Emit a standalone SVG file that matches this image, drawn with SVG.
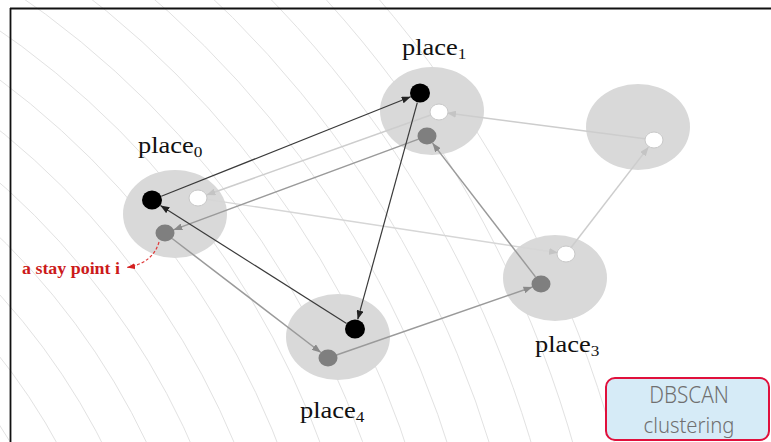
<svg xmlns="http://www.w3.org/2000/svg" width="771" height="442" viewBox="0 0 771 442">
  <style>
    .ring { fill: none; stroke: #e2e2e2; stroke-width: 1; }
    .place { fill: #d9d9d9; }
    .blk { fill: #000; }
    .gry { fill: #7f7f7f; }
    .wht { fill: #fff; stroke: #c8c8c8; stroke-width: 1; }
    .lbl { font-family: "Liberation Serif", "Times New Roman", serif; font-size: 23px; fill: #111; }
    .sub { font-size: 15px; }
    .tag { font-family: "Noto Sans", "Liberation Sans", sans-serif; font-weight: 300; fill: #707070; }
    .dark { stroke: #3a3a3a; stroke-width: 1.2; fill: none; marker-end: url(#ahDark); }
    .mid { stroke: #9a9a9a; stroke-width: 1.5; fill: none; marker-end: url(#ahMid); }
    .lite { stroke: #cdcdcd; stroke-width: 1.5; fill: none; marker-end: url(#ahLite); }
    .faint { stroke: #d6d6d6; stroke-width: 1.4; fill: none; marker-end: url(#ahLite); }
  </style>
  <defs>
    <marker id="ahDark" markerUnits="userSpaceOnUse" markerWidth="9" markerHeight="7" refX="9" refY="3.5" orient="auto">
      <path d="M0,0 L9,3.5 L0,7 z" fill="#222"/>
    </marker>
    <marker id="ahMid" markerUnits="userSpaceOnUse" markerWidth="9" markerHeight="7" refX="9" refY="3.5" orient="auto">
      <path d="M0,0 L9,3.5 L0,7 z" fill="#8a8a8a"/>
    </marker>
    <marker id="ahLite" markerUnits="userSpaceOnUse" markerWidth="9" markerHeight="7" refX="9" refY="3.5" orient="auto">
      <path d="M0,0 L9,3.5 L0,7 z" fill="#c4c4c4"/>
    </marker>
    <marker id="ahRed" markerUnits="userSpaceOnUse" markerWidth="8" markerHeight="6" refX="8" refY="3" orient="auto">
      <path d="M0,0 L8,3 L0,6 z" fill="#d42020"/>
    </marker>
  </defs>

  <rect width="771" height="442" fill="#fff"/>

  <!-- background ripple rings -->
  <g id="rings">
    <circle class="ring" cx="-500" cy="750" r="596"/>
    <circle class="ring" cx="-500" cy="750" r="636"/>
    <circle class="ring" cx="-500" cy="750" r="676"/>
    <circle class="ring" cx="-500" cy="750" r="716"/>
    <circle class="ring" cx="-500" cy="750" r="756"/>
    <circle class="ring" cx="-500" cy="750" r="796"/>
    <circle class="ring" cx="-500" cy="750" r="836"/>
    <circle class="ring" cx="-500" cy="750" r="876"/>
    <circle class="ring" cx="-500" cy="750" r="916"/>
    <circle class="ring" cx="-500" cy="750" r="956"/>
    <circle class="ring" cx="-500" cy="750" r="996"/>
    <circle class="ring" cx="-500" cy="750" r="1036"/>
    <circle class="ring" cx="-500" cy="750" r="1076"/>
    <circle class="ring" cx="-500" cy="750" r="1116"/>
    <circle class="ring" cx="-500" cy="750" r="1156"/>
  </g>

  <!-- frame -->
  <g id="frame" stroke="#111" stroke-width="1.8">
    <line x1="10" y1="8.5" x2="771" y2="8.5"/>
    <line x1="10.5" y1="8" x2="10.5" y2="442"/>
  </g>

  <!-- place areas -->
  <g id="place0">
    <ellipse class="place" cx="175" cy="214" rx="52" ry="44"/>
    <text class="lbl" transform="translate(138,153) scale(1.15,1)">place<tspan class="sub" dy="4">0</tspan></text>
  </g>
  <g id="place1">
    <ellipse class="place" cx="432" cy="111" rx="52" ry="44"/>
    <text class="lbl" transform="translate(402,55) scale(1.15,1)">place<tspan class="sub" dy="4">1</tspan></text>
  </g>
  <g id="place2">
    <ellipse class="place" cx="638" cy="127" rx="52" ry="43"/>
  </g>
  <g id="place3">
    <ellipse class="place" cx="555" cy="278" rx="52" ry="43"/>
    <text class="lbl" transform="translate(535,352) scale(1.15,1)">place<tspan class="sub" dy="4">3</tspan></text>
  </g>
  <g id="place4">
    <ellipse class="place" cx="338" cy="337" rx="52" ry="43"/>
    <text class="lbl" transform="translate(300,418) scale(1.15,1)">place<tspan class="sub" dy="4">4</tspan></text>
  </g>

  <!-- trajectories between stay points -->
  <g id="connectors">
    <line class="faint" x1="206.9" y1="199.4" x2="558" y2="252.8"/>
    <line class="lite" x1="431.5" y1="114.7" x2="206.5" y2="195"/>
    <line class="lite" x1="570.9" y1="247.7" x2="648.5" y2="147.1"/>
    <line class="lite" x1="645" y1="138.8" x2="447" y2="113"/>
    <line class="mid" x1="418.6" y1="139.1" x2="173.4" y2="229.9"/>
    <line class="mid" x1="535.5" y1="276.9" x2="432.5" y2="143.1"/>
    <line class="mid" x1="336.5" y1="355" x2="532.5" y2="287"/>
    <line class="mid" x1="172.1" y1="238.5" x2="320.9" y2="352.5"/>
    <line class="dark" x1="161.3" y1="196.3" x2="410.7" y2="96.7"/>
    <line class="dark" x1="417.3" y1="102.6" x2="357.7" y2="319.4"/>
    <line class="dark" x1="346.6" y1="323.6" x2="160.4" y2="205.4"/>
    <path d="M159,242 Q153,263 127,267.5" fill="none" stroke="#e03a3a" stroke-width="1.2" stroke-dasharray="3,2" marker-end="url(#ahRed)"/>
  </g>

  <!-- stay points -->
  <g id="points">
    <ellipse class="blk" cx="152" cy="200" rx="10" ry="9.5"/>
    <ellipse class="wht" cx="198" cy="198" rx="9" ry="8"/>
    <ellipse class="gry" cx="165" cy="233" rx="9.5" ry="8.5"/>

    <ellipse class="blk" cx="420" cy="93" rx="10" ry="9.5"/>
    <ellipse class="wht" cx="439" cy="112" rx="9" ry="8"/>
    <ellipse class="gry" cx="427" cy="136" rx="9.5" ry="8.5"/>

    <ellipse class="wht" cx="654" cy="140" rx="9" ry="8"/>

    <ellipse class="wht" cx="566" cy="254" rx="9" ry="8"/>
    <ellipse class="gry" cx="541" cy="284" rx="9.5" ry="8.5"/>

    <ellipse class="blk" cx="355" cy="329" rx="10" ry="9.5"/>
    <ellipse class="gry" cx="328" cy="358" rx="9.5" ry="8.5"/>
  </g>

  <g id="stay-point-note">
    <text transform="translate(22,273.5) scale(1.12,1)" font-family="Liberation Serif, 'Times New Roman', serif" font-size="16" font-weight="bold" fill="#cc1a1a">a stay point i</text>
  </g>

  <g id="dbscan-tag">
    <rect x="606" y="378" width="163" height="62" rx="9" fill="#d6ebf7" stroke="#e0103c" stroke-width="2"/>
    <text class="tag" transform="translate(689,402.5) scale(0.9,1)" text-anchor="middle" font-size="23">DBSCAN</text>
    <text class="tag" transform="translate(689,433) scale(0.9,1)" text-anchor="middle" font-size="22.5">clustering</text>
  </g>
</svg>
